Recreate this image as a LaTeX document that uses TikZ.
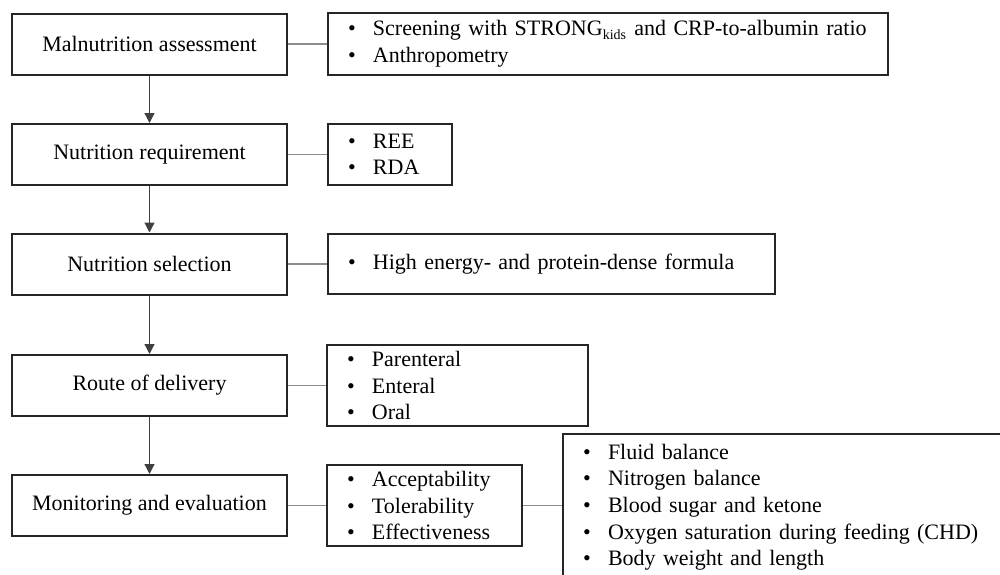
\documentclass[tikz,border=0pt]{standalone}
\usepackage{fontspec}
\setmainfont{Liberation Serif}
\usetikzlibrary{arrows.meta}

\newcommand{\punto}{\makebox[12.5pt][l]{\textbullet}}
\newcommand{\renglon}[1]{\mbox{\punto #1}}

\begin{document}
\begin{tikzpicture}[
    x=0.5pt, y=-0.5pt,
    font=\fontsize{11}{13.3}\selectfont,
    etapa/.style={rectangle,draw=black!85,line width=1pt,fill=white,
                  minimum width=137.5pt,minimum height=30.5pt,inner sep=0pt},
    lista/.style={rectangle,draw=black!85,line width=1pt,fill=white,
                  anchor=west,align=left,inner xsep=10pt,inner ysep=0pt},
    enlace/.style={draw=black!45,line width=0.75pt},
    flecha/.style={draw=black!75,line width=0.6pt,
                   -{Triangle[width=5pt,length=5pt]}}]

  \useasboundingbox (0,0) rectangle (1000,574);
  \clip (0,0) rectangle (1000,574);

  % pasos
  \node[etapa] (mal)  at (149.5,44)    {Malnutrition assessment};
  \node[etapa] (req)  at (149.5,154.5) {Nutrition requirement};
  \node[etapa] (sel)  at (149.5,264)   {Nutrition selection};
  \node[etapa] (ruta) at (149.5,385.5) {Route of delivery};
  \node[etapa] (mon)  at (149.5,505.5) {Monitoring and evaluation};

  % detalles
  \node[lista,text width=260pt,minimum height=31pt] (malD) at (327,44)
    {\renglon{Screening with STRONG\textsubscript{\fontsize{7}{7}\selectfont kids} and CRP-to-albumin ratio}\\
     \renglon{Anthropometry}};
  \node[lista,text width=42pt,minimum height=30.5pt] (reqD) at (327,154.5)
    {\renglon{REE}\\ \renglon{RDA}};
  \node[lista,text width=203.5pt,minimum height=30pt] (selD) at (327,264)
    {\renglon{High energy- and protein-dense formula}};
  \node[lista,text width=110.5pt,minimum height=40.5pt] (rutaD) at (326,385.5)
    {\renglon{Parenteral}\\ \renglon{Enteral}\\ \renglon{Oral}};
  \node[lista,text width=77.5pt,minimum height=40.5pt] (monD) at (326,505.5)
    {\renglon{Acceptability}\\ \renglon{Tolerability}\\ \renglon{Effectiveness}};
  \node[lista,anchor=north west,text width=210pt,inner ysep=5pt] (monE) at (562,433)
    {\renglon{Fluid balance}\\ \renglon{Nitrogen balance}\\ \renglon{Blood sugar and ketone}\\
     \renglon{Oxygen saturation during feeding (CHD)}\\ \renglon{Body weight and length}\\ \strut};

  % flechas
  \draw[flecha] (mal) -- (req);
  \draw[flecha] (req) -- (sel);
  \draw[flecha] (sel) -- (ruta);
  \draw[flecha] (ruta) -- (mon);

  \draw[enlace] (mal) -- (malD);
  \draw[enlace] (req) -- (reqD);
  \draw[enlace] (sel) -- (selD);
  \draw[enlace] (ruta) -- (rutaD);
  \draw[enlace] (mon) -- (monD);
  \draw[enlace] (monD.east) -- (monD.east -| monE.west);

\end{tikzpicture}
\end{document}
